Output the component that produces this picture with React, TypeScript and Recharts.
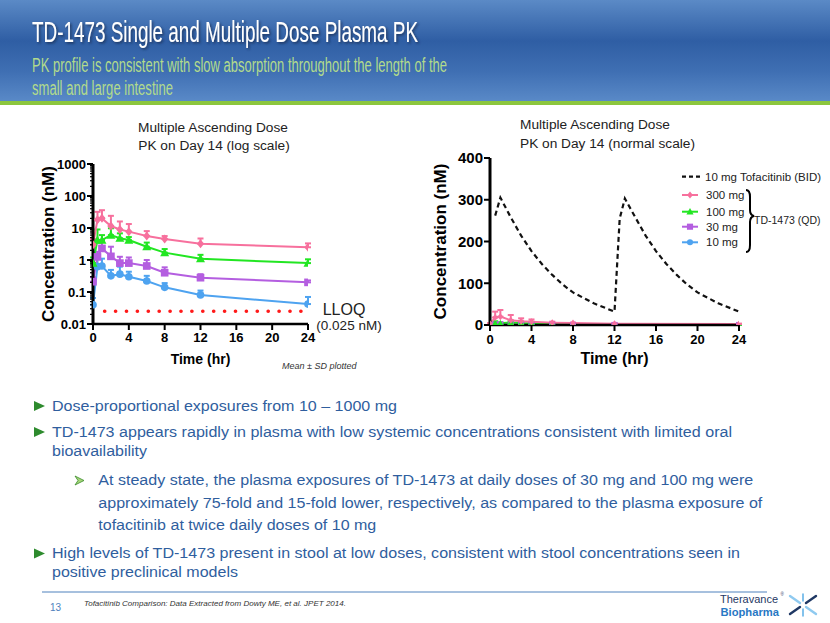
import React from 'react';
import { LineChart, Line, XAxis, YAxis, ErrorBar, Legend, Label } from 'recharts';

// ---------- data ----------
const timePoints = [0, 0.5, 1, 2, 3, 4, 6, 8, 12, 24];
const dose300 = [3.0, 18, 20, 11.5, 9, 7.7, 5.6, 4.5, 3.2, 2.5];
const sd300 = [1.5, 14, 16, 12.5, 7, 5.6, 2.4, 1.1, 1.5, 0.8];
const dose100 = [0.8, 4.2, 4.2, 6, 4.8, 4.2, 2.6, 1.7, 1.1, 0.8];
const sd100 = [0.4, 4.8, 1.8, 3.8, 2, 1, 0.9, 0.5, 0.35, 0.25];
const dose30 = [0.21, 1.25, 2.3, 1.3, 0.8, 0.8, 0.65, 0.4, 0.28, 0.2];
const sd30 = [0.08, 0.55, 1.9, 1.3, 0.46, 0.4, 0.35, 0.19, 0.08, 0.03];
const dose10 = [0.04, 0.62, 0.65, 0.32, 0.36, 0.3, 0.22, 0.14, 0.081, 0.042];
const sd10 = [0.025, 0.48, 0.45, 0.17, 0.26, 0.13, 0.1, 0.05, 0.03, 0.028];

const tofaTimes = [0.5, 1, 2, 3, 4, 5, 6, 7, 8, 10, 12, 12.5, 13, 14, 15, 16, 17, 18, 19, 20, 22, 24];
const tofaConc = [262, 305, 258, 214, 177, 146, 120, 97, 78, 52, 32, 255, 303, 258, 214, 177, 146, 120, 97, 78, 52, 32];

const lloqTimes = [1.3, 24];
const lloqValue = 0.025;

const logMajorTicks = [0.01, 0.1, 1, 10, 100, 1000];
const logTickLabels = ['0.01', '0.1', '1', '10', '100', '1000'];
const timeTicks = [0, 4, 8, 12, 16, 20, 24];
const linearTicks = [0, 100, 200, 300, 400];

const doseLabels = ['300 mg', '100 mg', '30 mg', '10 mg'];
const doseColors = ['#f7709d', '#22e622', '#b45ee0', '#4ea3f0'];
const doseShapes = ['diamond', 'triangle', 'square', 'circle'];
const tofaLabel = '10 mg Tofacitinib (BID)';
const groupLabel = 'TD-1473 (QD)';

const doseMeans = [dose300, dose100, dose30, dose10];
const doseSds = [sd300, sd100, sd30, sd10];

const series = doseLabels.map((name, k) => ({
  name,
  color: doseColors[k],
  shape: doseShapes[k],
  data: timePoints.map((t, i) => ({ t, v: doseMeans[k][i], err: [0, doseSds[k][i]] })),
}));
const drawOrder = [3, 2, 1, 0];
const tofaData = tofaTimes.map((t, i) => ({ t, v: tofaConc[i] }));
const lloqData = lloqTimes.map((t) => ({ t, v: lloqValue }));
const logMinorTicks: number[] = [];
logMajorTicks.slice(0, -1).forEach((d) => {
  for (let m = 2; m <= 9; m++) logMinorTicks.push(+(d * m).toPrecision(3));
});
const logAllTicks = [...logMajorTicks, ...logMinorTicks].sort((a, b) => a - b);

const FONT = 'Liberation Sans, Arial, sans-serif';

// ---------- helpers ----------
function Marker({ shape, cx, cy, s, color }: any) {
  if (shape === 'diamond')
    return <polygon points={`${cx},${cy - s} ${cx + s * 0.8},${cy} ${cx},${cy + s} ${cx - s * 0.8},${cy}`} fill={color} />;
  if (shape === 'triangle')
    return <polygon points={`${cx},${cy - s} ${cx + s},${cy + s * 0.8} ${cx - s},${cy + s * 0.8}`} fill={color} />;
  if (shape === 'square')
    return <rect x={cx - s * 0.85} y={cy - s * 0.85} width={s * 1.7} height={s * 1.7} fill={color} />;
  return <circle cx={cx} cy={cy} r={s * 0.85} fill={color} />;
}

const makeDot = (shape: string, color: string, s: number) => (props: any) => {
  const { cx, cy, index } = props;
  if (cx == null || cy == null || isNaN(cx) || isNaN(cy)) return <g key={`d${index}`} />;
  return (
    <g key={`d${index}`}>
      <Marker shape={shape} cx={cx} cy={cy} s={s} color={color} />
    </g>
  );
};

const LogTick = (props: any) => {
  const { x, y, payload } = props;
  const idx = logMajorTicks.indexOf(payload.value);
  const major = idx >= 0;
  return (
    <g>
      <line x1={x - (major ? 6 : 3)} x2={x} y1={y} y2={y} stroke="#000" strokeWidth={major ? 2 : 1.2} />
      {major && (
        <text x={x - 7} y={y} dy="0.36em" textAnchor="end" fontSize={13} fontWeight="bold" fontFamily={FONT} fill="#000">
          {logTickLabels[idx]}
        </text>
      )}
    </g>
  );
};

const yTitle = (dx: number, fontSize: number) => (props: any) => {
  const vb = props.viewBox || {};
  const cx = vb.x + dx;
  const cy = vb.y + vb.height / 2;
  return (
    <text x={cx} y={cy} transform={`rotate(-90 ${cx} ${cy})`} textAnchor="middle" dominantBaseline="central"
      fontSize={fontSize} fontWeight="bold" fontFamily={FONT} fill="#000">
      Concentration (nM)
    </text>
  );
};

const xTitle = (dy: number, fontSize: number) => (props: any) => {
  const vb = props.viewBox || {};
  return (
    <text x={vb.x + vb.width / 2} y={vb.y + dy} textAnchor="middle" fontSize={fontSize} fontWeight="bold" fontFamily={FONT} fill="#000">
      Time (hr)
    </text>
  );
};

const RightLegend = () => {
  const rows = [29, 45.7, 60.7, 76.3];
  return (
    <svg width={152} height={92} style={{ overflow: 'visible', display: 'block' }}>
      <line x1={4} x2={22} y1={10.7} y2={10.7} stroke="#111" strokeWidth={2.2} strokeDasharray="4 3" />
      <text x={27} y={10.7} dy="0.35em" fontSize={11.5} fontFamily={FONT} fill="#222">{tofaLabel}</text>
      {series.map((s, k) => (
        <g key={s.name}>
          <line x1={4} x2={20} y1={rows[k]} y2={rows[k]} stroke={s.color} strokeWidth={2} />
          <Marker shape={s.shape} cx={12} cy={rows[k]} s={3.6} color={s.color} />
          <text x={28} y={rows[k]} dy="0.35em" fontSize={11.5} fontFamily={FONT} fill="#222">{s.name}</text>
        </g>
      ))}
      <path d="M68,24 Q72,24 72,31 L72,44 Q72,49 76,50 Q72,51 72,56 L72,79 Q72,86 68,86" fill="none" stroke="#000" strokeWidth={2} />
      <text x={76} y={54} dy="0.35em" fontSize={10.5} fontFamily={FONT} fill="#222">{groupLabel}</text>
    </svg>
  );
};

// ---------- overlay (slide) ----------
const Bullet = ({ y }: { y: number }) => (
  <polygon points={`34,${y - 10} 45,${y - 5} 34,${y}`} fill="#2e8b2e" />
);

const SlideOverlay = () => (
  <svg width={830} height={623} style={{ position: 'absolute', left: 0, top: 0 }}>
    <defs>
      <linearGradient id="hdr" x1="0" y1="0" x2="0" y2="1">
        <stop offset="0" stopColor="#5b8ac6" />
        <stop offset="0.4" stopColor="#2f5ea4" />
        <stop offset="0.7" stopColor="#3f6fb3" />
        <stop offset="1" stopColor="#5a8ac8" />
      </linearGradient>
      <filter id="sh" x="-5%" y="-20%" width="110%" height="160%">
        <feDropShadow dx="1.5" dy="1.5" stdDeviation="1" floodColor="#142a50" floodOpacity="0.8" />
      </filter>
    </defs>
    <rect x={0} y={0} width={830} height={102} fill="url(#hdr)" />
    <rect x={0} y={101} width={830} height={4} fill="#8cc63e" />
    <text x={32} y={42} fontSize={29} fontFamily={FONT} fill="#fff" textLength={386} lengthAdjust="spacingAndGlyphs" filter="url(#sh)">
      TD-1473 Single and Multiple Dose Plasma PK
    </text>
    <text x={32} y={72} fontSize={20} fontFamily={FONT} fill="#b2db8c" textLength={415} lengthAdjust="spacingAndGlyphs">
      PK profile is consistent with slow absorption throughout the length of the
    </text>
    <text x={32} y={95} fontSize={20} fontFamily={FONT} fill="#b2db8c" textLength={141} lengthAdjust="spacingAndGlyphs">
      small and large intestine
    </text>

    {/* chart titles */}
    <text x={213} y={131.7} textAnchor="middle" fontSize={13.7} fontFamily={FONT} fill="#222">Multiple Ascending Dose</text>
    <text x={214} y={150} textAnchor="middle" fontSize={13.7} fontFamily={FONT} fill="#222">PK on Day 14 (log scale)</text>
    <text x={520} y={129.3} fontSize={13.7} fontFamily={FONT} fill="#222">Multiple Ascending Dose</text>
    <text x={520} y={148.3} fontSize={13.7} fontFamily={FONT} fill="#222">PK on Day 14 (normal scale)</text>

    <text x={344} y={315} textAnchor="middle" fontSize={16} fontFamily={FONT} fill="#222">LLOQ</text>
    <text x={349} y={330} textAnchor="middle" fontSize={13.5} fontFamily={FONT} fill="#222">(0.025 nM)</text>
    <text x={282} y={369} fontSize={9} fontStyle="italic" fontFamily={FONT} fill="#333">Mean ± SD plotted</text>

    {/* bullets */}
    <g fontFamily={FONT} fontSize={15.5} fill="#2f5e9e">
      <Bullet y={411} />
      <text x={52} y={410.7} textLength={345} lengthAdjust="spacingAndGlyphs">Dose-proportional exposures from 10 – 1000 mg</text>
      <Bullet y={437} />
      <text x={52} y={436.7} textLength={680} lengthAdjust="spacingAndGlyphs">TD-1473 appears rapidly in plasma with low systemic concentrations consistent with limited oral</text>
      <text x={52} y={455.7} textLength={95} lengthAdjust="spacingAndGlyphs">bioavailability</text>
      <polygon points="75,476 84,480.5 75,485 78,480.5" fill="#a6d67a" stroke="#3a8a2a" strokeWidth={0.8} />
      <text x={98.3} y={485} textLength={655} lengthAdjust="spacingAndGlyphs">At steady state, the plasma exposures of TD-1473 at daily doses of 30 mg and 100 mg were</text>
      <text x={98.3} y={507.7} textLength={664} lengthAdjust="spacingAndGlyphs">approximately 75-fold and 15-fold lower, respectively, as compared to the plasma exposure of</text>
      <text x={98.3} y={530} textLength={278} lengthAdjust="spacingAndGlyphs">tofacitinib at twice daily doses of 10 mg</text>
      <Bullet y={558.5} />
      <text x={52} y={558.3} textLength={688} lengthAdjust="spacingAndGlyphs">High levels of TD-1473 present in stool at low doses, consistent with stool concentrations seen in</text>
      <text x={52} y={577.3} textLength={186} lengthAdjust="spacingAndGlyphs">positive preclinical models</text>
    </g>

    {/* footer */}
    <line x1={42} x2={767} y1={592} y2={592} stroke="#4f81bd" strokeWidth={1} />
    <text x={50} y={610.7} fontSize={10} fontFamily={FONT} fill="#4f81bd">13</text>
    <text x={84} y={606} fontSize={8} fontStyle="italic" fontFamily={FONT} fill="#333" textLength={262} lengthAdjust="spacingAndGlyphs">
      Tofacitinib Comparison: Data Extracted from Dowty ME, et al. JPET 2014.
    </text>
    <text x={720} y={602.5} fontSize={11} fontFamily={FONT} fill="#1f3864">Theravance</text>
    <text x={780.5} y={596} fontSize={4.5} fontFamily={FONT} fill="#1f3864">®</text>
    <text x={720.5} y={615.5} fontSize={11.2} fontWeight="bold" fontFamily={FONT} fill="#2878c4">Biopharma</text>
    <g strokeWidth={2.4} strokeLinecap="round">
      <line x1={790} y1={596} x2={800} y2={603} stroke="#8fcaf0" />
      <line x1={816} y1={614} x2={806} y2={607} stroke="#8fcaf0" />
      <line x1={816} y1={596} x2={806} y2={603} stroke="#1f3864" />
      <line x1={790} y1={614} x2={800} y2={607} stroke="#1f3864" />
      <line x1={803} y1={594} x2={803} y2={601} stroke="#5aaee6" strokeWidth={1.5} />
      <line x1={803} y1={609} x2={803} y2={616} stroke="#5aaee6" strokeWidth={1.5} />
    </g>
  </svg>
);

// ---------- charts ----------
const LeftChart = () => (
  <LineChart width={420} height={280} margin={{ top: 64, right: 112, bottom: 26, left: 53 }}>
    <XAxis type="number" dataKey="t" domain={[0, 24]} ticks={timeTicks} allowDataOverflow
      tickSize={6} tickMargin={3} interval={0}
      tick={{ fontSize: 13, fontWeight: 'bold', fill: '#000', fontFamily: FONT }}
      axisLine={{ stroke: '#000', strokeWidth: 2.5 }} tickLine={{ stroke: '#000', strokeWidth: 2 }}>
      <Label content={xTitle(40, 14)} />
    </XAxis>
    <YAxis type="number" scale="log" domain={[0.01, 1000]} allowDataOverflow width={40}
      ticks={logAllTicks} interval={0} tickSize={0} tickMargin={0} tick={<LogTick />} tickLine={false}
      axisLine={{ stroke: '#000', strokeWidth: 3 }}>
      <Label content={yTitle(-5, 17)} />
    </YAxis>
    <Line data={lloqData} dataKey="v" stroke="#ff1a1a" strokeWidth={3.6} strokeLinecap="round" strokeDasharray="0.1 10.8" dot={false} isAnimationActive={false} legendType="none" />
    {drawOrder.map((k) => {
      const s = series[k];
      return (
        <Line key={s.name} data={s.data} dataKey="v" name={s.name} stroke={s.color} strokeWidth={2}
          dot={makeDot(s.shape, s.color, 4.5)} isAnimationActive={false}>
          <ErrorBar dataKey="err" direction="y" width={3} strokeWidth={2} stroke={s.color} isAnimationActive={false} />
        </Line>
      );
    })}
  </LineChart>
);

const RightChart = () => (
  <LineChart width={410} height={280} margin={{ top: 58, right: 91, bottom: 25, left: 30 }}>
    <XAxis type="number" dataKey="t" domain={[0, 24]} ticks={timeTicks} allowDataOverflow
      tickSize={6} tickMargin={4} interval={0}
      tick={{ fontSize: 13, fontWeight: 'bold', fill: '#000', fontFamily: FONT }}
      axisLine={{ stroke: '#000', strokeWidth: 2.5 }} tickLine={{ stroke: '#000', strokeWidth: 2 }}>
      <Label content={xTitle(39, 16)} />
    </XAxis>
    <YAxis type="number" domain={[0, 400]} ticks={linearTicks} allowDataOverflow width={40} interval={0}
      tickSize={6} tickMargin={1}
      tick={{ fontSize: 15, fontWeight: 'bold', fill: '#000', fontFamily: FONT }}
      axisLine={{ stroke: '#000', strokeWidth: 3 }} tickLine={{ stroke: '#000', strokeWidth: 2 }}>
      <Label content={yTitle(-10, 17)} />
    </YAxis>
    <Line data={lloqData} dataKey="v" stroke="#ff1a1a" strokeWidth={2.5} strokeLinecap="round" strokeDasharray="0.1 11" dot={false} isAnimationActive={false} legendType="none" />
    <Line data={tofaData} dataKey="v" name={tofaLabel} stroke="#111" strokeWidth={2.2} strokeDasharray="5 3.5" dot={false} isAnimationActive={false} />
    {drawOrder.map((k) => {
      const s = series[k];
      return (
        <Line key={s.name} data={s.data} dataKey="v" name={s.name} stroke={s.color} strokeWidth={2}
          dot={makeDot(s.shape, s.color, 3.5)} isAnimationActive={false}>
          <ErrorBar dataKey="err" direction="y" width={3} strokeWidth={2} stroke={s.color} isAnimationActive={false} />
        </Line>
      );
    })}
    <Legend layout="horizontal" verticalAlign="middle" align="center" content={<RightLegend />}
      wrapperStyle={{ left: 258, top: 66, width: 152, height: 92 }} />
  </LineChart>
);

export default function App() {
  return (
    <div style={{ position: 'absolute', left: 0, top: 0, width: 830, height: 623, background: '#fff', overflow: 'hidden' }}>
      <SlideOverlay />
      <div style={{ position: 'absolute', left: 0, top: 100 }}>
        <LeftChart />
      </div>
      <div style={{ position: 'absolute', left: 420, top: 100 }}>
        <RightChart />
      </div>
    </div>
  );
}
